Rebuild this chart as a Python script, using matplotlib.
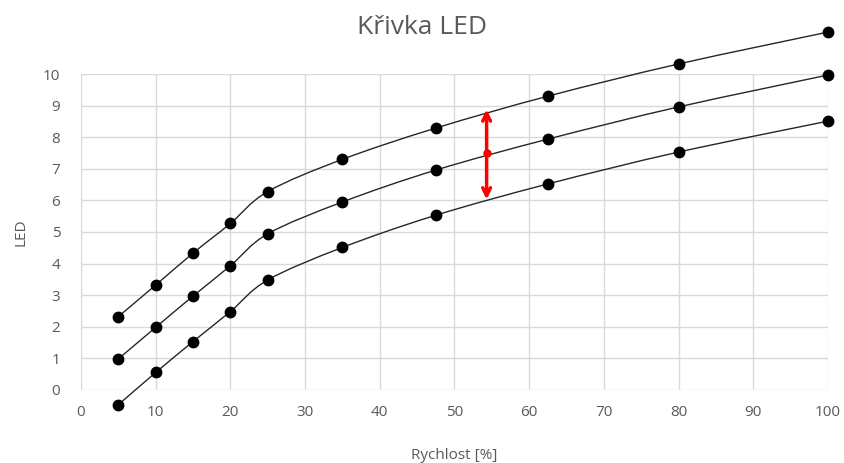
import numpy as np
import matplotlib.pyplot as plt
from matplotlib.path import Path
from matplotlib.patches import PathPatch

plt.rcParams['font.family'] = ['Open Sans', 'DejaVu Sans']

# data
rychlost = [5, 10, 15, 20, 25, 35, 47.5, 62.5, 80, 100]
led_top = [2.32, 3.32, 4.33, 5.27, 6.28, 7.30, 8.29, 9.30, 10.32, 11.33]
led_mid = [0.98, 1.98, 2.97, 3.93, 4.94, 5.95, 6.96, 7.94, 8.96, 9.97]
led_bot = [-0.47, 0.55, 1.53, 2.48, 3.48, 4.51, 5.53, 6.52, 7.53, 8.51]

arrow_x = 54.3
arrow_lo, arrow_mid, arrow_hi = 6.03, 7.49, 8.88

x_ticks = list(range(0, 101, 10))
y_ticks = list(range(0, 11))

grey = '#595959'


def smooth_path(xs, ys):
    # Excel-like smoothed line: cubic Bezier with Catmull-Rom control points
    p = np.column_stack([xs, ys]).astype(float)
    verts = [p[0]]
    codes = [Path.MOVETO]
    n = len(p)
    for i in range(n - 1):
        p0 = p[i - 1] if i > 0 else p[i]
        p3 = p[i + 2] if i + 2 < n else p[i + 1]
        c1 = p[i] + (p[i + 1] - p0) / 6.0
        c2 = p[i + 1] - (p3 - p[i]) / 6.0
        verts += [c1, c2, p[i + 1]]
        codes += [Path.CURVE4] * 3
    return Path(verts, codes)


fig = plt.figure(figsize=(8.44, 4.63), dpi=100)
ax = fig.add_axes([0.096, 0.158, 0.885, 0.682])

for ys in (led_top, led_mid, led_bot):
    patch = PathPatch(smooth_path(rychlost, ys), facecolor='none',
                      edgecolor='#262626', lw=1.0, clip_on=False, zorder=3)
    ax.add_patch(patch)
    ax.plot(rychlost, ys, 'o', color='black', markersize=7.5,
            clip_on=False, zorder=4)

# red double arrow with dot in the middle
for end in (arrow_hi, arrow_lo):
    ax.annotate('', xy=(arrow_x, end), xytext=(arrow_x, arrow_mid),
                arrowprops=dict(arrowstyle='->', color='red', lw=2.5,
                                shrinkA=0, shrinkB=0, mutation_scale=14),
                zorder=5)
ax.plot([arrow_x], [arrow_mid], 'o', color='red', markersize=5, zorder=6)

ax.set_xlim(0, 100)
ax.set_ylim(0, 10)
ax.set_xticks(x_ticks)
ax.set_yticks(y_ticks)
ax.grid(True, color='#d9d9d9', lw=1.0)
ax.set_axisbelow(True)
for s in ax.spines.values():
    s.set_visible(False)
ax.tick_params(length=0, labelsize=11, colors=grey)
ax.tick_params(axis='x', pad=11)
ax.tick_params(axis='y', pad=15)

ax.set_xlabel('Rychlost [%]', fontsize=11, color=grey, labelpad=20)
ax.set_ylabel('LED', fontsize=11, color=grey, labelpad=10)
fig.text(0.5, 0.94, 'Křivka LED', ha='center', va='center',
         fontsize=19, color=grey)

fig.savefig('out.png', dpi=100)
